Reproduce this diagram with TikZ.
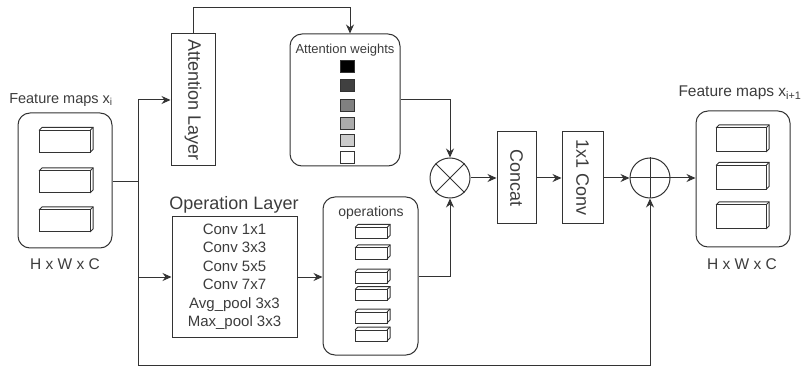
\documentclass[tikz,border=0pt]{standalone}
\usepackage{fontspec}
\setmainfont{Liberation Sans}
\usepackage{graphicx}
\usetikzlibrary{positioning,calc,arrows.meta}
\definecolor{ink}{HTML}{333333}
\definecolor{txt}{HTML}{3C3C3C}
\newcommand{\fsz}[1]{\fontsize{#1}{#1}\selectfont}
\tikzset{
	every node/.style={text=txt, inner sep=1pt, align=center},
	line/.style={draw=ink, line width=1pt},
	arr/.style={line, -{Stealth[length=9pt,width=8pt]}},
	layer/.style={line, rectangle, font=\fsz{18}},
	holder/.style={line, rectangle, rounded corners=12pt},
	wsq/.style={line, rectangle, minimum width=14, minimum height=12},
	opnode/.style={line, circle, minimum size=40},
	pics/slab/.style 2 args={code={
		\draw[line] (-#1/2,-#2/2) rectangle (#1/2,#2/2);
		\draw[line] (-#1/2,-#2/2) -- ++(3,-3) -- ++(#1,0) -- ++(0,#2) -- (#1/2,#2/2);
		\draw[line] (#1/2,-#2/2) -- ++(3,-3);
	}}
}

\begin{document}
\begin{tikzpicture}[x=1pt, y=-1pt]
	\useasboundingbox (0,0) rectangle (805,371);

	% input feature maps
	\node[holder, minimum width=94, minimum height=135] (fin) at (65,180.5) {};
	\node[font=\fsz{14.5}] (finlbl) at (61,100) {Feature maps x\textsubscript{i}};
	\node[font=\fsz{15.5}] (findim) at (65,264) {H x W x C};
	\pic at (64.5,141.5) {slab={51}{22}};
	\pic at (64.5,182) {slab={51}{22}};
	\pic at (64.5,221) {slab={51}{22}};

	% attention branch
	\node[layer, minimum width=44, minimum height=132] (att) at (193,100) {\rotatebox{-90}{Attention Layer}};
	\node[holder, minimum width=110, minimum height=132] (attw) at (345,100) {};
	\node[font=\fsz{13}] (attwlbl) at (345,50) {Attention weights};
	\node[wsq, fill=black] (w1) at (347,66.5) {};
	\node[wsq, fill=black!75] (w2) at (347,86) {};
	\node[wsq, fill=black!50] (w3) at (347,105.5) {};
	\node[wsq, fill=black!33] (w4) at (347,124) {};
	\node[wsq, fill=black!20] (w5) at (347,140.5) {};
	\node[wsq, fill=white] (w6) at (347,157.5) {};

	% operation branch
	\node[line, rectangle, minimum width=125, minimum height=120, font=\fsz{15}] (oplay) at (234.5,277)
		{Conv 1x1\\[3.5pt]Conv 3x3\\[3.5pt]Conv 5x5\\[3.5pt]Conv 7x7\\[3.5pt]Avg\_pool 3x3\\[3.5pt]Max\_pool 3x3};
	\node[font=\fsz{18}] (oplbl) at (234,205) {Operation Layer};
	\node[holder, minimum width=95, minimum height=158] (ops) at (370.5,276) {};
	\node[font=\fsz{14}] (opslbl) at (371,213) {operations};
	\pic at (371,233) {slab={32}{11}};
	\pic at (371,253.5) {slab={32}{11}};
	\pic at (371,277.5) {slab={32}{11}};
	\pic at (371,295) {slab={32}{11}};
	\pic at (371,317.5) {slab={32}{11}};
	\pic at (371,335.5) {slab={32}{11}};

	% merge
	\node[opnode] (mul) at (450,178) {};
	\draw[line] (mul.north west) to (mul.south east);
	\draw[line] (mul.north east) to (mul.south west);
	\node[layer, minimum width=39, minimum height=92] (concat) at (516.5,178) {\rotatebox{-90}{Concat}};
	\node[layer, minimum width=41, minimum height=92] (conv) at (582.5,178) {\rotatebox{-90}{1x1 Conv}};
	\node[opnode] (add) at (650,178) {};
	\draw[line] (add.north) to (add.south);
	\draw[line] (add.west) to (add.east);

	% output feature maps
	\node[holder, minimum width=94, minimum height=136] (fout) at (743,179) {};
	\node[font=\fsz{15.5}] (foutlbl) at (740,93) {Feature maps x\textsubscript{i+1}};
	\node[font=\fsz{15.5}] (foutdim) at (742,264) {H x W x C};
	\pic at (741,140) {slab={50}{24}};
	\pic at (741,177.5) {slab={50}{24}};
	\pic at (741,217) {slab={50}{24}};

	% connectors
	\coordinate (split) at (138,182);
	\coordinate (bot) at (138,365);
	\draw[line] (split -| fin.east) to (split);
	\draw[arr] (split) |- (att.west);
	\draw[arr] (split) |- (oplay.west);
	\draw[arr] (split) -- (bot) -| (add.south);
	\draw[arr] (att.north) -- ++(0,-26) -| ([xshift=5pt]attw.north);
	\draw[arr] (attw.east) -| (mul.north);
	\draw[arr] (oplay.east) to (oplay.east -| ops.west);
	\draw[arr] (ops.east) -| (mul.south);
	\draw[arr] (mul.east) to (concat.west);
	\draw[arr] (concat.east) to (conv.west);
	\draw[arr] (conv.east) to (add.west);
	\draw[arr] (add.east) to (add.east -| fout.west);
\end{tikzpicture}
\end{document}
